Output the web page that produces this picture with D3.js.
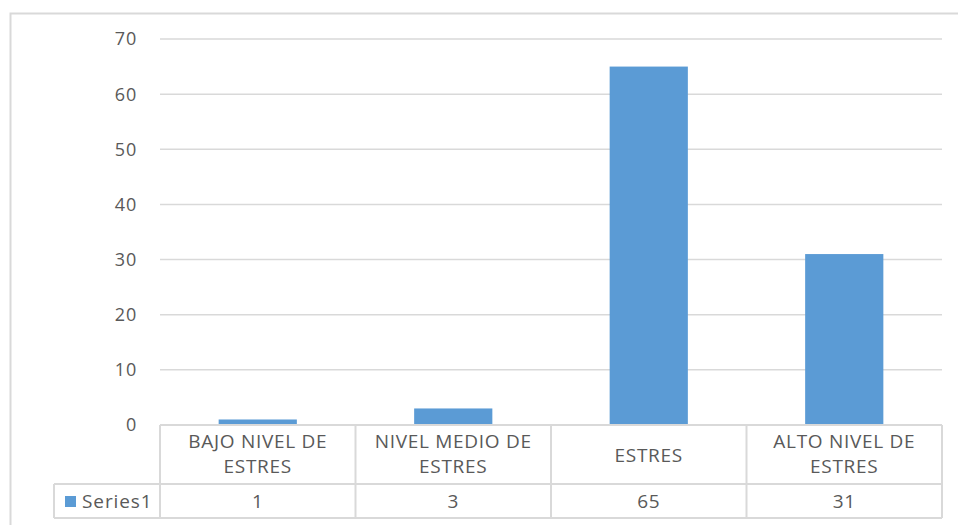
<!DOCTYPE html>
<html>
<head>
<meta charset="utf-8">
<title>Niveles de estres</title>
<script src="https://cdn.jsdelivr.net/npm/d3@7"></script>
<style>
  body { margin: 0; background: #fff; }
  text { font-family: "Open Sans", sans-serif; fill: #595959; }
</style>
</head>
<body>
<script>
// data
var categories = [["BAJO NIVEL DE", "ESTRES"], ["NIVEL MEDIO DE", "ESTRES"], ["ESTRES"], ["ALTO NIVEL DE", "ESTRES"]];
var seriesName = "Series1";
var values = [1, 3, 65, 31];
var yTicks = [0, 10, 20, 30, 40, 50, 60, 70];

var W = 958, H = 525;
var plotLeft = 160, plotRight = 942, plotTop = 39, plotBottom = 425;
var row1 = 484, row2 = 518, labelLeft = 54;

var svg = d3.select("body").append("svg").attr("width", W).attr("height", H);

// chart border
svg.append("rect").attr("x", 10.5).attr("y", 13.5).attr("width", 960).attr("height", 530)
  .attr("fill", "none").attr("stroke", "#d9d9d9").attr("stroke-width", 2);

var x = d3.scaleBand().domain(d3.range(categories.length)).range([plotLeft, plotRight]);
var y = d3.scaleLinear().domain([0, 70]).range([plotBottom, plotTop]);

// gridlines
svg.selectAll("line.grid").data(yTicks.filter(function(d) { return d > 0; })).enter().append("line")
  .attr("x1", plotLeft).attr("x2", plotRight)
  .attr("y1", function(d) { return y(d); }).attr("y2", function(d) { return y(d); })
  .attr("stroke", "#d9d9d9").attr("stroke-width", 1.5);

// y tick labels
svg.selectAll("text.ytick").data(yTicks).enter().append("text")
  .attr("x", 137).attr("y", function(d) { return y(d); }).attr("dy", "0.36em")
  .attr("text-anchor", "end").style("font-size", "18px").style("letter-spacing", "0.8px")
  .text(function(d) { return d; });

// bars
var bw = x.bandwidth() * 0.4;
svg.selectAll("rect.bar").data(values).enter().append("rect")
  .attr("x", function(d, i) { return x(i) + (x.bandwidth() - bw) / 2; })
  .attr("width", bw)
  .attr("y", function(d) { return y(d); })
  .attr("height", function(d) { return y(0) - y(d); })
  .attr("fill", "#5b9bd5");

// data table lines
var g = svg.append("g").attr("stroke", "#d9d9d9").attr("stroke-width", 2);
g.append("line").attr("x1", plotLeft).attr("x2", plotRight).attr("y1", plotBottom).attr("y2", plotBottom);
g.append("line").attr("x1", labelLeft).attr("x2", plotRight).attr("y1", row1).attr("y2", row1);
g.append("line").attr("x1", labelLeft).attr("x2", plotRight).attr("y1", row2).attr("y2", row2);
g.append("line").attr("x1", labelLeft).attr("x2", labelLeft).attr("y1", row1).attr("y2", row2);
d3.range(categories.length + 1).forEach(function(i) {
  var xx = i < categories.length ? x(i) : plotRight;
  g.append("line").attr("x1", xx).attr("x2", xx).attr("y1", plotBottom).attr("y2", row2);
});

// category labels
categories.forEach(function(lines, i) {
  var cx = x(i) + x.bandwidth() / 2;
  var t = svg.append("text").attr("text-anchor", "middle")
    .style("font-size", "19px").style("letter-spacing", "0.7px");
  var y0 = lines.length === 1 ? (plotBottom + row1) / 2 + 7 : plotBottom + 23;
  lines.forEach(function(l, j) {
    t.append("tspan").attr("x", cx).attr("y", y0 + j * 25).text(l);
  });
});

// value row
svg.selectAll("text.val").data(values).enter().append("text")
  .attr("x", function(d, i) { return x(i) + x.bandwidth() / 2; })
  .attr("y", (row1 + row2) / 2).attr("dy", "0.36em")
  .attr("text-anchor", "middle").style("font-size", "19px").style("letter-spacing", "0.7px")
  .text(function(d) { return d; });

// series legend cell
svg.append("rect").attr("x", 65).attr("y", (row1 + row2) / 2 - 5).attr("width", 11).attr("height", 11).attr("fill", "#5b9bd5");
svg.append("text").attr("x", 82).attr("y", (row1 + row2) / 2).attr("dy", "0.36em")
  .style("font-size", "19px").style("letter-spacing", "0.9px").text(seriesName);
</script>
</body>
</html>
